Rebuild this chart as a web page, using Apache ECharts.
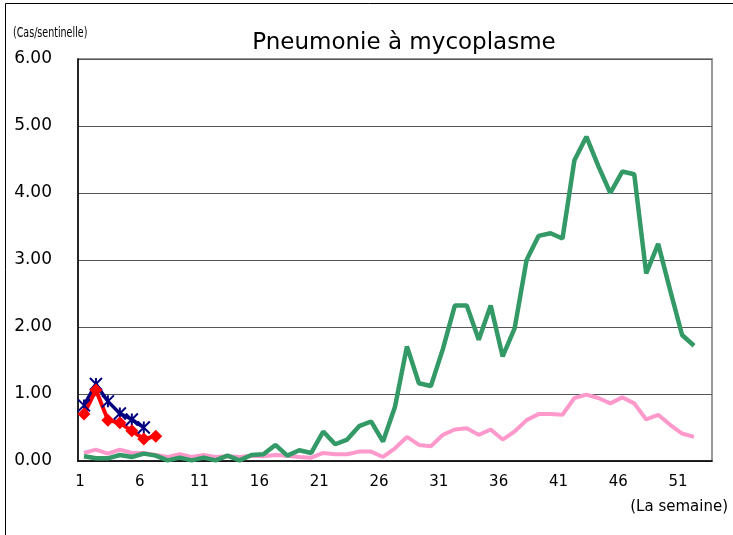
<!DOCTYPE html>
<html>
<head>
<meta charset="utf-8">
<script src="https://cdn.jsdelivr.net/npm/echarts@6/dist/echarts.min.js"></script>
<style>
  html, body { margin: 0; padding: 0; background: #fff; }
  #main { width: 733px; height: 535px; }
</style>
</head>
<body>
<div id="main"></div>
<script>
// semaines 1..53
var weeks = [];
for (var i = 1; i <= 53; i++) weeks.push(String(i));

// valeurs
var green = [0.07, 0.04, 0.04, 0.09, 0.06, 0.11, 0.08, 0.01, 0.05, 0.01,
             0.05, 0.01, 0.08, 0.01, 0.09, 0.10, 0.24, 0.08, 0.16, 0.12,
             0.44, 0.25, 0.32, 0.52, 0.59, 0.29, 0.81, 1.71, 1.16, 1.12,
             1.67, 2.32, 2.32, 1.81, 2.32, 1.56, 1.98, 3.00, 3.36, 3.40,
             3.32, 4.49, 4.84, 4.40, 4.00, 4.32, 4.28, 2.80, 3.24, 2.55,
             1.88, 1.72];
var pink = [0.12, 0.17, 0.11, 0.17, 0.12, 0.12, 0.09, 0.06, 0.10, 0.06,
            0.09, 0.06, 0.07, 0.06, 0.08, 0.07, 0.09, 0.08, 0.06, 0.05,
            0.12, 0.10, 0.10, 0.14, 0.14, 0.06, 0.19, 0.36, 0.24, 0.22,
            0.39, 0.47, 0.49, 0.39, 0.47, 0.32, 0.44, 0.61, 0.70, 0.70,
            0.69, 0.94, 0.99, 0.94, 0.86, 0.95, 0.86, 0.62, 0.69, 0.54,
            0.41, 0.36];
var navy = [0.83, 1.15, 0.89, 0.71, 0.62, 0.50];
var red = [0.70, 1.06, 0.61, 0.57, 0.45, 0.33, 0.37];

var chart = echarts.init(document.getElementById("main"));
chart.setOption({
  backgroundColor: "#fff",
  animation: false,
  textStyle: { fontFamily: "DejaVu Sans, sans-serif" },
  title: {
    text: "Pneumonie à mycoplasme",
    left: 399,
    textAlign: "center",
    top: 27,
    textStyle: { color: "#000", fontSize: 23, fontWeight: "normal",
                 fontFamily: "DejaVu Sans, sans-serif" }
  },
  graphic: [
    {
      type: "rect",
      shape: { x: 5.5, y: 3.5, width: 760, height: 560 },
      style: { fill: "none", stroke: "#000", lineWidth: 1 },
      silent: true
    },
    {
      // libellé condensé de l'axe Y
      type: "text",
      x: 13,
      y: 26,
      scaleX: 0.68,
      style: { text: "(Cas/sentinelle)", fill: "#000", fontSize: 14,
               fontFamily: "DejaVu Sans, sans-serif" }
    },
    {
      type: "text",
      right: 5,
      top: 500,
      style: { text: "(La semaine)", fill: "#000", fontSize: 15,
               fontFamily: "DejaVu Sans, sans-serif" }
    }
  ],
  grid: {
    left: 78,
    right: 21,
    top: 59,
    bottom: 74,
    show: true,
    borderColor: "#999",
    borderWidth: 2
  },
  xAxis: {
    type: "category",
    data: weeks,
    boundaryGap: true,
    axisLine: { lineStyle: { color: "#000", width: 1.5 } },
    axisTick: { inside: true, length: 4, interval: 4, lineStyle: { color: "#000" } },
    axisLabel: { interval: 4, color: "#000", fontSize: 15, margin: 14, padding: [0, 8, 0, 0] },
    splitLine: { show: false }
  },
  yAxis: {
    type: "value",
    min: 0,
    max: 6,
    interval: 1,
    axisLine: { show: true, lineStyle: { color: "#000", width: 1.5 } },
    axisTick: { show: false },
    axisLabel: {
      color: "#000",
      fontSize: 17,
      margin: 26,
      formatter: function (v) { return v.toFixed(2); }
    },
    splitLine: { lineStyle: { color: "#555", width: 1 } }
  },
  series: [
    {
      name: "pink",
      type: "line",
      data: pink,
      symbol: "none",
      lineStyle: { color: "#ff99cc", width: 4 },
      itemStyle: { color: "#ff99cc" }
    },
    {
      name: "green",
      type: "line",
      data: green,
      symbol: "none",
      lineStyle: { color: "#339966", width: 4.5 },
      itemStyle: { color: "#339966" }
    },
    {
      name: "navy",
      type: "line",
      data: navy,
      symbol: "path://M0,0L10,10M10,0L0,10M5,0L5,10",
      symbolSize: 12,
      showAllSymbol: true,
      lineStyle: { color: "#000080", width: 3.5 },
      itemStyle: { color: "#000080", borderColor: "#000080", borderWidth: 2 }
    },
    {
      name: "red",
      type: "line",
      data: red,
      symbol: "diamond",
      symbolSize: 13,
      showAllSymbol: true,
      lineStyle: { color: "#ff0000", width: 4 },
      itemStyle: { color: "#ff0000" }
    }
  ]
});
</script>
</body>
</html>
